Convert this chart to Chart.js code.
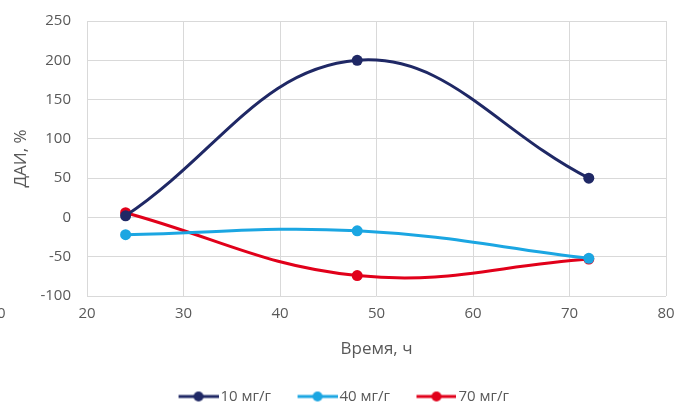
<!DOCTYPE html>
<html>
<head>
<meta charset="utf-8">
<script src="https://cdn.jsdelivr.net/npm/chart.js@4/dist/chart.umd.min.js"></script>
<style>
  html, body { margin: 0; padding: 0; background: #fff; }
  #wrap { width: 676px; height: 408px; position: relative; }
</style>
</head>
<body>
<div id="wrap"><canvas id="daiChart"></canvas></div>
<script>
// data
const hours = [24, 48, 72];
const dose10 = [2, 200, 50];
const dose40 = [-22, -17, -52];
const dose70 = [6, -74, -53];
const seriesNames = ["10 мг/г", "40 мг/г", "70 мг/г"];
const xTicks = [20, 30, 40, 50, 60, 70, 80];
const yTicks = [-100, -50, 0, 50, 100, 150, 200, 250];

const colors = ["#1f2865", "#1ba6e2", "#e1001a"];
const FONT = "'Open Sans', 'Liberation Sans', sans-serif";
const TEXT = "#595959";

function toPoints(values) {
  return hours.map((h, i) => ({ x: h, y: values[i] }));
}

// legend marker: short line with a dot, drawn on the right part of the image
// so the line sits right next to the label text
function legendMarker(color) {
  const c = document.createElement("canvas");
  c.width = 67;
  c.height = 12;
  const g = c.getContext("2d");
  g.strokeStyle = color;
  g.lineWidth = 3;
  g.beginPath();
  g.moveTo(27, 6);
  g.lineTo(67, 6);
  g.stroke();
  g.fillStyle = color;
  g.beginPath();
  g.arc(47, 6, 5, 0, Math.PI * 2);
  g.fill();
  return c;
}

// the cut-off "0" at the bottom left of the original picture
const strayLabel = {
  id: "strayLabel",
  afterDraw(chart) {
    const ctx = chart.ctx;
    ctx.save();
    ctx.font = "15px " + FONT;
    ctx.fillStyle = TEXT;
    ctx.textBaseline = "middle";
    ctx.fillText("0", -3, 314);
    ctx.restore();
  },
};

const datasets = [dose10, dose40, dose70].map((vals, i) => ({
  label: seriesNames[i],
  data: toPoints(vals),
  borderColor: colors[i],
  backgroundColor: colors[i],
  borderWidth: 3,
  pointRadius: 5.5,
  pointBorderWidth: 0,
  pointHoverRadius: 5.5,
  tension: 0.4,
  fill: false,
}));

new Chart(document.getElementById("daiChart"), {
  type: "line",
  data: { datasets },
  options: {
    responsive: true,
    maintainAspectRatio: false,
    animation: false,
    layout: { padding: { top: 21, right: 10, left: 0, bottom: -6 } },
    plugins: {
      tooltip: { enabled: false },
      legend: {
        position: "bottom",
        labels: {
          usePointStyle: true,
          pointStyleWidth: 56,
          boxHeight: 12,
          padding: 5,
          color: TEXT,
          font: { family: FONT, size: 15 },
          generateLabels: (chart) =>
            chart.data.datasets.map((ds, i) => ({
              text: ds.label,
              pointStyle: legendMarker(colors[i]),
              fillStyle: colors[i],
              strokeStyle: colors[i],
              lineWidth: 0,
              datasetIndex: i,
              fontColor: TEXT,
            })),
        },
      },
    },
    scales: {
      x: {
        type: "linear",
        min: 20,
        max: 80,
        afterBuildTicks: (scale) => {
          scale.ticks = xTicks.map((v) => ({ value: v }));
        },
        grid: { color: "#d9d9d9", lineWidth: 1, drawTicks: false },
        border: { display: false },
        ticks: {
          color: TEXT,
          padding: 9,
          maxRotation: 0,
          font: { family: FONT, size: 15 },
        },
        title: {
          display: true,
          text: "Время, ч",
          color: TEXT,
          padding: { top: 10, bottom: 25 },
          font: { family: FONT, size: 17 },
        },
        afterFit: (scale) => {
          scale.height = 88;
          scale.paddingLeft = 0;
          scale.paddingRight = 0;
        },
      },
      y: {
        min: -100,
        max: 250,
        afterBuildTicks: (scale) => {
          scale.ticks = yTicks.map((v) => ({ value: v }));
        },
        grid: { color: "#d9d9d9", lineWidth: 1, drawTicks: false },
        border: { display: false },
        ticks: {
          color: TEXT,
          padding: 16,
          font: { family: FONT, size: 15 },
        },
        title: {
          display: true,
          text: "ДАИ, %",
          color: TEXT,
          padding: { top: 11, bottom: 0 },
          font: { family: FONT, size: 17 },
        },
        afterFit: (scale) => {
          scale.width = 87;
          scale.paddingTop = 0;
          scale.paddingBottom = 0;
        },
      },
    },
  },
  plugins: [strayLabel],
});
</script>
</body>
</html>
